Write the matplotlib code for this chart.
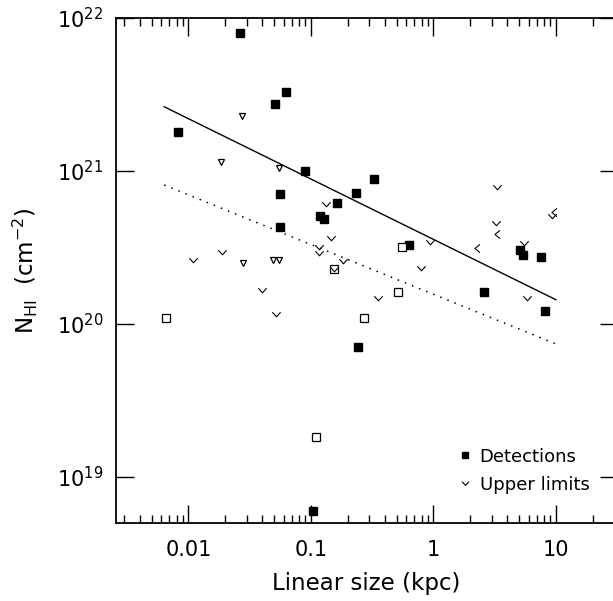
import matplotlib
matplotlib.use('Agg')
import matplotlib.pyplot as plt
from matplotlib.path import Path
from matplotlib.lines import Line2D
from matplotlib.ticker import FixedLocator, LogLocator, NullFormatter

plt.rcParams['font.family'] = ['DejaVu Sans']
plt.rcParams['mathtext.default'] = 'regular'

# detections (filled squares)
det_x = [0.0263, 0.0625, 0.0512, 0.00817, 0.0893, 0.233, 0.0559, 0.327, 0.163, 0.118,
         0.128, 0.0559, 0.240, 0.631, 5.08, 5.35, 7.55, 2.58, 8.18, 0.104]
det_y = [8.0e21, 3.3e21, 2.73e21, 1.81e21, 1.0e21, 7.2e20, 7.1e20, 8.9e20, 6.2e20, 5.1e20,
         4.86e20, 4.33e20, 7.1e19, 3.28e20, 3.05e20, 2.83e20, 2.75e20, 1.63e20, 1.22e20, 6.0e18]

# open squares
osq_x = [0.00655, 0.155, 0.556, 0.509, 0.272, 0.110]
osq_y = [1.09e20, 2.28e20, 3.17e20, 1.63e20, 1.09e20, 1.82e19]

# upper limits (v)
ul_x = [3.28, 0.132, 0.145, 0.117, 0.117, 0.0187, 0.0108, 0.184, 0.155, 0.0395,
        0.0514, 3.22, 5.48, 0.935, 0.785, 0.350, 5.77, 9.2]
ul_y = [7.9e20, 6.06e20, 3.63e20, 3.17e20, 2.92e20, 2.97e20, 2.62e20, 2.58e20, 2.28e20, 1.67e20,
        1.17e20, 4.6e20, 3.4e20, 3.42e20, 2.33e20, 1.47e20, 1.47e20, 5.1e20]

# open triangles
tri_x = [0.0275, 0.0183, 0.0545, 0.0277, 0.0486, 0.0545]
tri_y = [2.3e21, 1.15e21, 1.05e21, 2.52e20, 2.62e20, 2.62e20]

# "<" symbols
lt_x = [3.28, 2.25, 9.6]
lt_y = [3.86e20, 3.15e20, 5.4e20]

# fitted relations
fit_x = [0.00634, 10.0]
fit_solid_y = [2.63e21, 1.44e20]
fit_dot_y = [8.1e20, 7.4e19]

vmark = Path([(-1, 0.55), (0, -0.55), (1, 0.55)], [Path.MOVETO, Path.LINETO, Path.LINETO])
ltmark = Path([(0.6, 1), (-0.6, 0), (0.6, -1)], [Path.MOVETO, Path.LINETO, Path.LINETO])

fig = plt.figure(figsize=(6.13, 6.01), dpi=100)
ax = fig.add_axes([115.5 / 613, 1 - 523 / 601, 502 / 613, 505 / 601])

ax.plot(fit_x, fit_solid_y, color='black', lw=1.0)
ax.plot(fit_x, fit_dot_y, color='black', lw=1.1, linestyle=(0, (1, 4)))

ax.plot(det_x, det_y, 's', color='black', ms=6, lw=0)
ax.plot(osq_x, osq_y, 's', mfc='white', mec='black', mew=0.9, ms=6, lw=0)
ax.plot(ul_x, ul_y, marker=vmark, color='black', mfc='none', mew=0.8, ms=6, lw=0)
ax.plot(tri_x, tri_y, 'v', mfc='white', mec='black', mew=0.9, ms=5, lw=0)
ax.plot(lt_x, lt_y, marker=ltmark, color='black', mfc='none', mew=0.8, ms=6, lw=0)

ax.set_xscale('log')
ax.set_yscale('log')
ax.set_xlim(0.00254, 31.8)
ax.set_ylim(5e18, 1e22)

ax.xaxis.set_major_locator(FixedLocator([0.01, 0.1, 1, 10]))
ax.set_xticklabels(['0.01', '0.1', '1', '10'])
ax.xaxis.set_minor_locator(LogLocator(base=10, subs=range(2, 10), numticks=20))
ax.xaxis.set_minor_formatter(NullFormatter())
ax.yaxis.set_major_locator(FixedLocator([1e19, 1e20, 1e21, 1e22]))
ax.set_yticklabels(['$10^{19}$', '$10^{20}$', '$10^{21}$', '$10^{22}$'])
ax.yaxis.set_minor_locator(FixedLocator([]))

ax.tick_params(which='both', direction='in', top=True, right=True, labelsize=15, width=1.0)
ax.tick_params(which='major', length=13)
ax.tick_params(which='minor', length=6)
ax.tick_params(axis='x', pad=12)
ax.tick_params(axis='y', pad=9)
for s in ax.spines.values():
    s.set_linewidth(1.3)
ax.spines['right'].set_visible(False)

ax.set_xlabel('Linear size (kpc)', fontsize=16.5, labelpad=9)
ax.set_ylabel('N$_{HI}$  (cm$^{-2}$)', fontsize=16.5, labelpad=12)

handles = [Line2D([], [], marker='s', color='black', ms=5, lw=0),
           Line2D([], [], marker=vmark, color='black', mfc='none', mew=0.8, ms=5, lw=0)]
ax.legend(handles, ['Detections', 'Upper limits'], loc='lower left',
          bbox_to_anchor=(0.686, 0.058), frameon=False, fontsize=13,
          handlelength=0.6, handletextpad=0.5, labelspacing=0.55,
          borderpad=0, borderaxespad=0)

fig.savefig('out.png', dpi=100)
